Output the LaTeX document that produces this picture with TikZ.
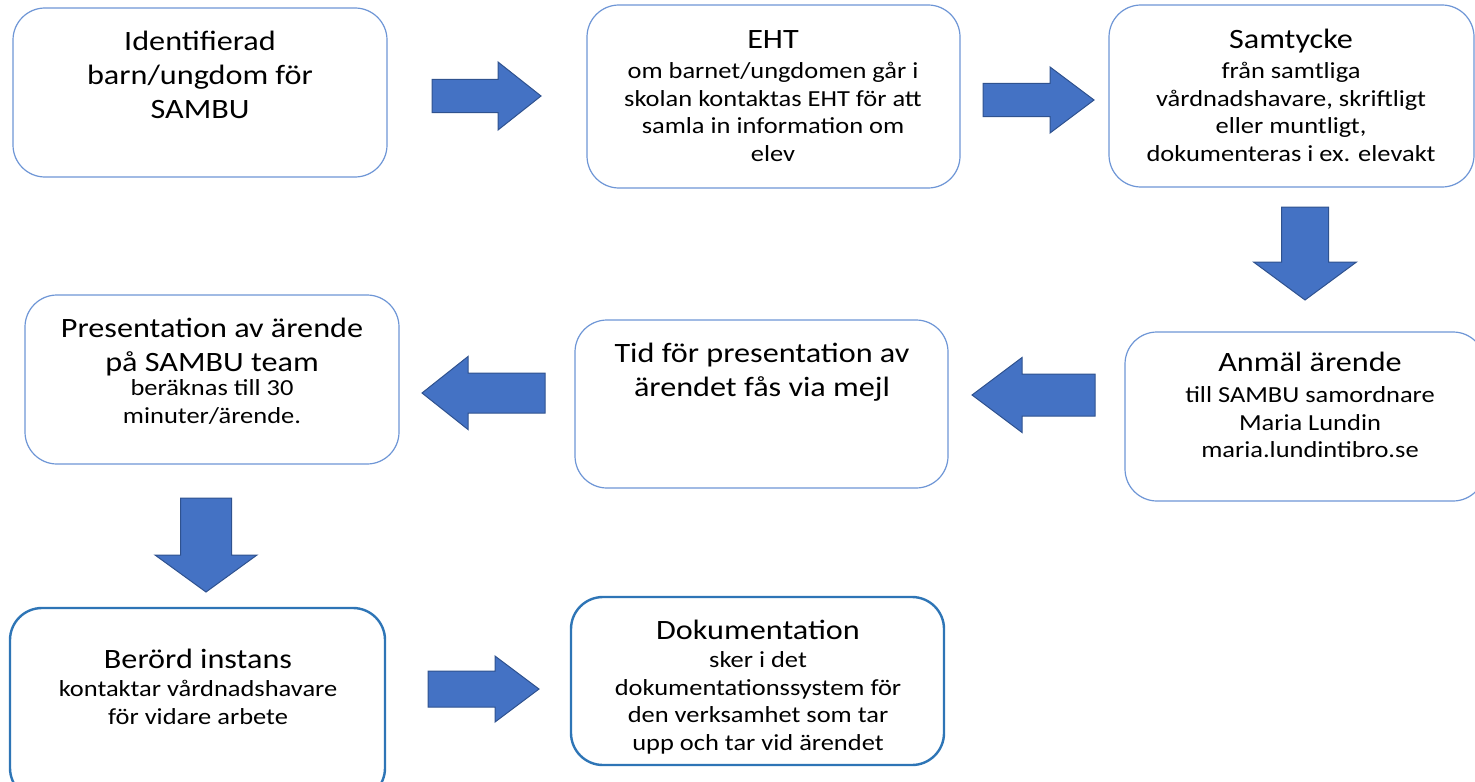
\documentclass[tikz,border=0pt]{standalone}
\usepackage{fontspec}
\newfontfamily\cf[FakeStretch=1.15]{Carlito}
\definecolor{boxline}{HTML}{6E96D6}
\definecolor{boxdark}{HTML}{2E75B6}
\definecolor{arrfill}{HTML}{4472C4}
\definecolor{arrline}{HTML}{2F528F}
\newcommand\blkR[6]{\draw[barrow] (#1,{#2-#5}) -- ({#1+#3-#4},{#2-#5}) -- ({#1+#3-#4},{#2-#6}) -- ({#1+#3},#2) -- ({#1+#3-#4},{#2+#6}) -- ({#1+#3-#4},{#2+#5}) -- (#1,{#2+#5}) -- cycle;}
\newcommand\blkL[6]{\draw[barrow] (#1,{#2-#5}) -- ({#1-#3+#4},{#2-#5}) -- ({#1-#3+#4},{#2-#6}) -- ({#1-#3},#2) -- ({#1-#3+#4},{#2+#6}) -- ({#1-#3+#4},{#2+#5}) -- (#1,{#2+#5}) -- cycle;}
\newcommand\blkD[6]{\draw[barrow] ({#1-#5},#2) -- ({#1-#5},{#2+#3-#4}) -- ({#1-#6},{#2+#3-#4}) -- (#1,{#2+#3}) -- ({#1+#6},{#2+#3-#4}) -- ({#1+#5},{#2+#3-#4}) -- ({#1+#5},#2) -- cycle;}
\begin{document}
\begin{tikzpicture}[x=0.5pt,y=-0.5pt,
  box/.style={draw=boxline, line width=0.6pt, rounded corners=16pt, fill=white, inner sep=0pt, outer sep=0pt},
  boxd/.style={draw=boxdark, line width=1.2pt, rounded corners=16pt, fill=white, inner sep=0pt, outer sep=0pt},
  ttl/.style={anchor=north, align=center, inner sep=0pt, font=\cf\fontsize{14}{16.8}\selectfont},
  sub/.style={anchor=north, align=center, inner sep=0pt, font=\cf\fontsize{11.5}{13.8}\selectfont},
  barrow/.style={fill=arrfill, draw=arrline, line width=0.5pt, line join=miter}]
\useasboundingbox (0,0) rectangle (1475,781);
\clip (0,0) rectangle (1475,781);
% boxes
\node[box, minimum width=187pt, minimum height=84.5pt] (b1) at (200,92.5) {};
\node[box, minimum width=186.5pt, minimum height=91.5pt] (b2) at (773.5,96.5) {};
\node[box, minimum width=182.5pt, minimum height=91pt] (b3) at (1291.5,96) {};
\node[box, minimum width=180pt, minimum height=84.5pt] (b4) at (1305,416.5) {};
\node[box, minimum width=186.5pt, minimum height=84pt] (b5) at (761.5,404) {};
\node[box, minimum width=187pt, minimum height=84.5pt] (b6) at (212,379.5) {};
\node[boxd, minimum width=187.5pt, minimum height=96pt] (b7) at (197.5,704) {};
\node[boxd, minimum width=186.5pt, minimum height=84pt] (b8) at (757.5,681) {};
% texts
\node[ttl] (t1) at (200,27) {\strut Identifierad\\barn/ungdom för\\SAMBU};
\node[ttl] (t2) at (773,25) {\strut EHT};
\node[sub] (s2) at (773,59) {\strut om barnet/ungdomen går i\\skolan kontaktas EHT för att\\samla in information om\\elev};
\node[ttl] (t3) at (1291,25) {\strut Samtycke};
\node[sub] (s3) at (1291,59) {\strut från samtliga\\vårdnadshavare, skriftligt\\eller muntligt,\\dokumenteras i ex. elevakt};
\node[ttl] (t4) at (1310,348) {\strut Anmäl ärende};
\node[sub] (s4) at (1310,383) {\strut till SAMBU samordnare\\Maria Lundin\\maria.lundintibro.se};
\node[ttl] (t5) at (762,339) {\strut Tid för presentation av\\ärendet fås via mejl};
\node[ttl] (t6) at (212,314) {\strut Presentation av ärende\\på SAMBU team};
\node[sub] (s6) at (212,376) {\strut beräknas till 30\\minuter/ärende.};
\node[ttl] (t7) at (198,645) {\strut Berörd instans};
\node[sub] (s7) at (198,677) {\strut kontaktar vårdnadshavare\\för vidare arbete};
\node[ttl] (t8) at (758,616) {\strut Dokumentation};
\node[sub] (s8) at (758,648) {\strut sker i det\\dokumentationssystem för\\den verksamhet som tar\\upp och tar vid ärendet};
% block arrows
\blkR{432}{96}{109}{43}{16.5}{34}
\blkR{983}{100}{111}{44}{16.5}{33}
\blkD{1305}{207}{93}{38}{23.5}{51.5}
\blkL{1095}{395}{123}{50}{21}{37.5}
\blkL{545}{393}{123}{46}{20}{36.5}
\blkD{206}{498}{94}{37}{25.5}{51}
\blkR{428}{689}{111}{44}{18}{33}
\end{tikzpicture}
\end{document}
